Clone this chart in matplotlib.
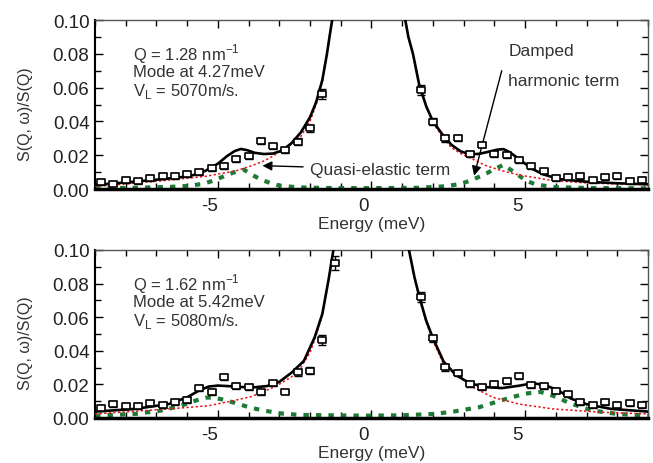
import numpy as np
import matplotlib
matplotlib.use("Agg")
import matplotlib.pyplot as plt
import matplotlib.transforms as mtrans
from matplotlib.ticker import MultipleLocator

plt.rcParams["font.family"] = ["Liberation Sans", "DejaVu Sans"]
plt.rcParams["axes.unicode_minus"] = False
plt.rcParams["mathtext.fontset"] = "custom"
plt.rcParams["mathtext.rm"] = "Liberation Sans"

# ---- measured points (energy in meV, S(Q,w)/S(Q)) ----
E_left = [-8.8, -8.4, -8.0, -7.6, -7.2, -6.8, -6.4, -6.0, -5.6, -5.2,
          -4.8, -4.4, -4.0, -3.6, -3.2, -2.8, -2.4, -2.0, -1.6]
E_right = [1.6, 2.0, 2.4, 2.8, 3.2, 3.6, 4.0, 4.4, 4.8, 5.2,
           5.6, 6.0, 6.4, 6.8, 7.2, 7.6, 8.0, 8.4, 8.8]

# Q = 1.28 nm-1
q1_E = E_left + E_right
q1_S = [0.0040, 0.0032, 0.0054, 0.0045, 0.0065, 0.0077, 0.0075, 0.0089, 0.0099, 0.0123,
        0.0135, 0.0176, 0.0195, 0.0284, 0.0252, 0.0233, 0.0280, 0.0359, 0.0562,
        0.0586, 0.0399, 0.0300, 0.0300, 0.0207, 0.0263, 0.0207, 0.0201, 0.0173, 0.0138,
        0.0104, 0.0064, 0.0069, 0.0077, 0.0051, 0.0069, 0.0079, 0.0049, 0.0053]
q1_err = [0.0017] * 16 + [0.002, 0.002, 0.003] + [0.003, 0.002, 0.002] + [0.0017] * 16

# Q = 1.62 nm-1
q2_E = E_left + [-1.2] + E_right
q2_S = [0.0058, 0.0083, 0.0070, 0.0073, 0.0087, 0.0077, 0.0097, 0.0109, 0.0177, 0.0153,
        0.0242, 0.0189, 0.0183, 0.0153, 0.0206, 0.0153, 0.0272, 0.0282, 0.0464, 0.0923,
        0.0718, 0.0474, 0.0302, 0.0268, 0.0202, 0.0183, 0.0202, 0.0222, 0.0252, 0.0198,
        0.0192, 0.0163, 0.0143, 0.0097, 0.0077, 0.0097, 0.0077, 0.0091, 0.0077]
q2_err = [0.0017] * 15 + [0.0005] + [0.002, 0.002, 0.003, 0.004] + [0.003, 0.002, 0.002] + [0.0017] * 16

# ---- fit curves ----
# total fit, Q = 1.28
q1_fit_E = [-9.0, -8.0, -7.0, -6.2, -5.8, -5.4, -5.0, -4.7, -4.45, -4.25, -4.05, -3.8, -3.5,
            -3.2, -2.9, -2.6, -2.3, -2.0, -1.8, -1.6, -1.45, -1.35, -1.28, -1.2]
q1_fit_S = [0.0024, 0.0039, 0.0055, 0.0070, 0.0082, 0.0108, 0.0150, 0.0195, 0.0225, 0.0237,
            0.0230, 0.0214, 0.0207, 0.0210, 0.0228, 0.0272, 0.0335, 0.0425, 0.0515, 0.0645,
            0.0800, 0.0920, 0.1000, 0.1100]
q1_fit_E2 = [1.05, 1.1, 1.2, 1.35, 1.55, 1.78, 2.0, 2.3, 2.6, 2.9, 3.2, 3.5, 3.8, 4.1,
             4.3, 4.5, 4.8, 5.2, 5.6, 6.1, 7.0, 8.0, 9.0]
q1_fit_S2 = [0.1100, 0.1000, 0.0900, 0.0800, 0.0620, 0.0490, 0.0400, 0.0325, 0.0262, 0.0223,
             0.0205, 0.0208, 0.0220, 0.0233, 0.0236, 0.0218, 0.0178, 0.0122, 0.0086, 0.0059,
             0.0043, 0.0034, 0.0028]
# quasi-elastic term, Q = 1.28
q1_qe_E = [-9.0, -8.0, -6.8, -5.4, -4.4, -3.9, -3.55, -3.2, -2.9, -2.6, -2.3, -2.0, -1.8,
           -1.6, -1.45, -1.35, -1.28, -1.2]
q1_qe_S = [0.0016, 0.0030, 0.0049, 0.0075, 0.0108, 0.0138, 0.0162, 0.0195, 0.0234, 0.0265,
           0.0312, 0.0400, 0.0500, 0.0635, 0.0800, 0.0920, 0.1000, 0.1100]
q1_qe_E2 = [1.05, 1.1, 1.2, 1.35, 1.55, 1.78, 2.0, 2.3, 2.6, 2.9, 3.2, 3.7, 4.25, 4.8,
            5.9, 7.0, 9.0]
q1_qe_S2 = [0.1100, 0.1000, 0.0900, 0.0800, 0.0620, 0.0490, 0.0395, 0.0310, 0.0245, 0.0210,
            0.0185, 0.0140, 0.0108, 0.0083, 0.0050, 0.0036, 0.0024]
# damped harmonic term, Q = 1.28
q1_dh_E = [-9.0, -7.5, -6.5, -6.0, -5.5, -5.1, -4.75, -4.45, -4.15, -3.85, -3.55, -3.3, -3.0,
           -2.4, -1.5, 0.0, 1.5, 2.4, 2.9, 3.3, 3.75, 4.0, 4.3, 4.6, 4.8, 5.0, 5.3, 5.6,
           6.0, 7.0, 9.0]
q1_dh_S = [0.0004, 0.0008, 0.0013, 0.0018, 0.0030, 0.0052, 0.0080, 0.0100, 0.0114, 0.0080,
           0.0052, 0.0036, 0.0020, 0.0010, 0.0006, 0.0005, 0.0007, 0.0016, 0.0030, 0.0055,
           0.0093, 0.0118, 0.0143, 0.0105, 0.0080, 0.0052, 0.0030, 0.0020, 0.0011, 0.0006,
           0.0004]

# total fit, Q = 1.62
q2_fit_E = [-9.0, -7.7, -6.6, -6.0, -5.6, -5.3, -5.0, -4.6, -4.2, -3.8, -3.4, -3.0, -2.6,
            -2.2, -1.85, -1.6, -1.4, -1.24, -1.18]
q2_fit_S = [0.0038, 0.0054, 0.0083, 0.0123, 0.0165, 0.0187, 0.0193, 0.0189, 0.0184, 0.0183,
            0.0190, 0.0215, 0.0270, 0.0340, 0.0480, 0.0620, 0.0820, 0.1000, 0.1100]
q2_fit_E2 = [1.15, 1.22, 1.4, 1.56, 1.78, 2.0, 2.35, 2.75, 3.2, 3.7, 4.25, 4.8, 5.25, 5.65,
             6.1, 6.5, 7.0, 7.8, 9.0]
q2_fit_S2 = [0.1100, 0.1000, 0.0837, 0.0720, 0.0580, 0.0475, 0.0335, 0.0255, 0.0207, 0.0184,
             0.0178, 0.0192, 0.0207, 0.0196, 0.0162, 0.0115, 0.0082, 0.0054, 0.0038]
# quasi-elastic term, Q = 1.62
q2_qe_E = [-9.0, -6.6, -5.3, -4.5, -3.9, -3.1, -2.6, -2.3, -2.0, -1.85, -1.6, -1.4, -1.24, -1.18]
q2_qe_S = [0.0024, 0.0054, 0.0073, 0.0103, 0.0128, 0.0190, 0.0245, 0.0300, 0.0390, 0.0465,
           0.0610, 0.0820, 0.1000, 0.1100]
q2_qe_E2 = [1.15, 1.22, 1.4, 1.56, 1.78, 2.0, 2.35, 2.85, 3.3, 3.95, 4.8, 5.9, 7.5, 9.0]
q2_qe_S2 = [0.1100, 0.1000, 0.0830, 0.0710, 0.0570, 0.0460, 0.0320, 0.0245, 0.0183, 0.0123,
            0.0083, 0.0054, 0.0034, 0.0024]
# damped harmonic term, Q = 1.62
q2_dh_E = [-9.0, -7.7, -6.85, -6.2, -5.7, -5.35, -5.1, -4.8, -4.45, -3.95, -3.5, -2.9, -2.3,
           -1.0, 0.0, 1.0, 2.0, 2.6, 3.5, 4.37, 5.0, 5.5, 5.9, 6.5, 7.2, 8.0, 9.0]
q2_dh_S = [0.0014, 0.0024, 0.0044, 0.0073, 0.0105, 0.0122, 0.0120, 0.0108, 0.0090, 0.0062,
           0.0044, 0.0026, 0.0018, 0.0015, 0.0014, 0.0016, 0.0024, 0.0036, 0.0064, 0.0113,
           0.0145, 0.0155, 0.0133, 0.0085, 0.0044, 0.0024, 0.0014]

panels = [
    dict(E=q1_E, S=q1_S, err=q1_err,
         fit=[(q1_fit_E, q1_fit_S), (q1_fit_E2, q1_fit_S2)],
         qe=[(q1_qe_E, q1_qe_S), (q1_qe_E2, q1_qe_S2)],
         dh=(q1_dh_E, q1_dh_S),
         info=["Q = 1.28 nm$^{\\mathregular{-1}}$", "Mode at 4.27meV",
               "V$_\\mathregular{L}$ = 5070m/s."]),
    dict(E=q2_E, S=q2_S, err=q2_err,
         fit=[(q2_fit_E, q2_fit_S), (q2_fit_E2, q2_fit_S2)],
         qe=[(q2_qe_E, q2_qe_S), (q2_qe_E2, q2_qe_S2)],
         dh=(q2_dh_E, q2_dh_S),
         info=["Q = 1.62 nm$^{\\mathregular{-1}}$", "Mode at 5.42meV",
               "V$_\\mathregular{L}$ = 5080m/s."]),
]

TXT = "#333333"
GREEN = "#1f7a36"
RED = "#e8141c"
box = [(-1.6, -1), (1.6, -1), (1.6, 1), (-1.6, 1), (-1.6, -1)]

fig = plt.figure(figsize=(6.53, 4.64), dpi=100)
axes = [fig.add_axes([0.1455, 0.5905, 0.8468, 0.3642]),
        fig.add_axes([0.1455, 0.0970, 0.8468, 0.3621])]

for ax, p in zip(axes, panels):
    ax.plot(*p["dh"], color=GREEN, lw=3.0, ls=(0, (1.3, 1.7)), solid_capstyle="butt",
            dash_capstyle="butt", zorder=2)
    for e, s in p["qe"]:
        ax.plot(e, s, color=RED, lw=1.1, ls=(0, (1.5, 1.5)), zorder=3)
    for e, s in p["fit"]:
        ax.plot(e, s, color="black", lw=1.9, zorder=4)
    ax.errorbar(p["E"], p["S"], yerr=p["err"], fmt="none", ecolor="black", elinewidth=1.0,
                capsize=3, capthick=1.0, zorder=5)
    ax.plot(p["E"], p["S"], ls="none", marker=box, ms=6.2, mfc="white", mec="black",
            mew=1.2, zorder=6)

    ax.set_xlim(-9, 9)
    ax.set_ylim(0, 0.10)
    ax.xaxis.set_major_locator(MultipleLocator(5))
    ax.xaxis.set_minor_locator(MultipleLocator(1))
    ax.yaxis.set_major_locator(MultipleLocator(0.02))
    ax.yaxis.set_minor_locator(MultipleLocator(0.01))
    ax.yaxis.set_major_formatter(plt.FormatStrFormatter("%.2f"))
    ax.tick_params(which="both", direction="in", top=True, right=True, width=1,
                   labelsize=13.5, labelcolor="#222222")
    ax.tick_params(which="major", length=6, pad=6)
    ax.tick_params(which="minor", length=4)
    ax.tick_params(axis="y", pad=4)
    for side in ("top", "right"):
        ax.spines[side].set_color("#555555")
        ax.spines[side].set_linewidth(1.0)
    ax.spines["left"].set_linewidth(1.5)
    ax.spines["bottom"].set_linewidth(2.5)
    shift = mtrans.ScaledTranslation(-8 / 100, 0, fig.dpi_scale_trans)
    for lab in ax.get_xticklabels():
        lab.set_transform(lab.get_transform() + shift)

    ax.set_xlabel("Energy (meV)", fontsize=12.5, color=TXT, labelpad=1)
    ax.set_ylabel("S(Q, \u03c9)/S(Q)", fontsize=11.5, color=TXT)
    ax.yaxis.set_label_coords(-0.112, 0.45)

    for i, line in enumerate(p["info"]):
        ax.text(-7.75, 0.0805 - i * 0.0112, line, fontsize=12, color=TXT,
                va="center", ha="left")

ax = axes[0]
ax.annotate("Quasi-elastic term", xy=(-3.55, 0.0138), xytext=(-2.0, 0.0118),
            fontsize=12.5, color=TXT, va="center", ha="left",
            arrowprops=dict(arrowstyle="-|>", color="black", lw=1.0, mutation_scale=14,
                            shrinkA=3, shrinkB=0))
ax.text(4.45, 0.0817, "Damped", fontsize=12.5, color=TXT, va="center", ha="left")
ax.text(4.45, 0.0640, "harmonic term", fontsize=12.5, color=TXT, va="center", ha="left")
ax.annotate("", xy=(3.34, 0.0079), xytext=(4.24, 0.0700),
            arrowprops=dict(arrowstyle="-|>", color="black", lw=1.0, mutation_scale=14,
                            shrinkA=0, shrinkB=0))

fig.savefig("out.png", dpi=100)
